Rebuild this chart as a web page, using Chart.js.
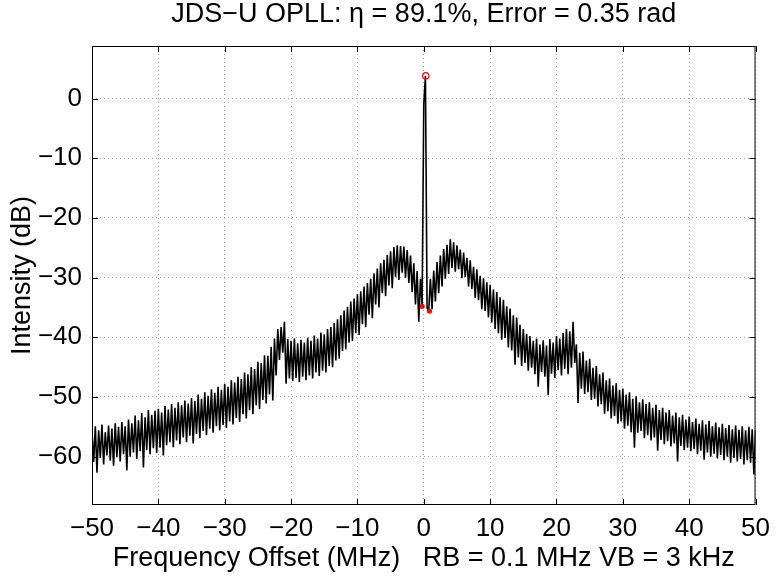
<!DOCTYPE html>
<html>
<head>
<meta charset="utf-8">
<script src="https://cdn.jsdelivr.net/npm/chart.js@4"></script>
<style>
  html, body { margin: 0; padding: 0; background: #fff; }
  canvas { display: block; }
</style>
</head>
<body>
<canvas id="c" width="778" height="577"></canvas>
<script>
// ---- Data ----
const titleText = 'JDS\u2212U OPLL: \u03b7 = 89.1%, Error = 0.35 rad';
const xLabel = 'Frequency Offset (MHz)   RB = 0.1 MHz VB = 3 kHz';
const yLabel = 'Intensity (dB)';
const xTicks = [-50, -40, -30, -20, -10, 0, 10, 20, 30, 40, 50];
const yTicks = [-60, -50, -40, -30, -20, -10, 0];

// frequency grid of the trace (MHz): start and bin spacing
const freqStart = -50;
const freqStep = 0.25;

// trace intensity (dB), one row per 10 MHz
const dbM50 = [-55.8,-60.9,-54.9,-62.7,-55.6,-60.2,-54.6,-61.3,-55.9,-59.8,
               -54.8,-60.7,-55.3,-61.5,-54.4,-60.1,-55.0,-60.8,-54.2,-59.6,
               -54.9,-62.3,-53.8,-60.0,-54.4,-59.3,-53.1,-60.4,-53.9,-59.1,
               -52.7,-61.8,-53.4,-58.9,-52.2,-59.6,-53.0,-58.6,-52.3,-59.4];
const dbM40 = [-52.0,-58.5,-52.6,-59.8,-51.5,-58.1,-52.1,-57.6,-51.2,-58.4,
               -51.8,-57.3,-50.9,-57.9,-51.4,-56.8,-50.6,-57.6,-51.1,-56.5,
               -50.2,-57.8,-50.7,-56.2,-49.6,-56.9,-50.3,-55.7,-49.2,-56.4,
               -49.8,-55.3,-48.7,-56.0,-49.3,-54.9,-48.3,-55.6,-48.8,-54.7];
const dbM30 = [-47.8,-55.2,-48.3,-54.1,-47.2,-54.6,-47.6,-53.5,-46.6,-54.2,
               -47.0,-52.9,-45.9,-53.6,-46.2,-52.2,-45.0,-52.9,-45.3,-51.4,
               -44.1,-52.0,-44.3,-50.5,-43.0,-51.1,-43.1,-49.6,-41.6,-50.6,
               -40.2,-46.4,-38.6,-43.8,-38.3,-42.6,-37.4,-47.8,-40.3,-46.9];
const dbM20 = [-40.6,-47.3,-40.2,-46.8,-41.0,-47.5,-40.4,-46.6,-40.9,-47.2,
               -40.1,-46.4,-40.6,-46.9,-39.7,-45.9,-40.2,-46.5,-39.2,-45.6,
               -39.5,-45.9,-38.6,-44.8,-38.3,-45.0,-37.6,-43.9,-37.0,-43.6,
               -36.3,-42.3,-35.5,-42.0,-34.9,-40.9,-34.0,-40.6,-33.5,-39.3];
const dbM10 = [-32.8,-39.6,-32.3,-37.8,-31.5,-38.3,-30.9,-36.2,-30.2,-36.8,
               -29.3,-34.5,-28.5,-35.0,-27.6,-32.6,-27.0,-33.1,-26.2,-31.3,
               -25.6,-31.8,-24.9,-29.9,-24.6,-30.4,-24.7,-29.2,-24.8,-30.0,
               -25.4,-30.9,-26.3,-32.4,-27.6,-34.5,-28.9,-37.4,-30.2,-34.8];
const dbP0  = [ -1.0,  3.8,-35.1,-35.6,-30.2,-35.3,-28.8,-34.0,-27.4,-32.6,
               -26.3,-31.5,-25.2,-30.2,-24.5,-29.4,-23.6,-28.4,-24.1,-29.0,
               -24.6,-28.6,-25.3,-30.1,-25.8,-29.9,-26.7,-31.5,-27.1,-31.9,
               -28.2,-33.4,-28.6,-33.8,-29.7,-35.3,-30.1,-35.6,-30.8,-36.7];
const dbP10 = [-31.2,-37.5,-32.0,-38.6,-32.4,-39.3,-33.3,-40.4,-33.7,-40.1,
               -34.8,-41.7,-35.2,-42.2,-36.3,-44.6,-36.7,-43.4,-37.9,-44.8,
               -38.6,-44.3,-39.4,-45.6,-39.8,-45.1,-40.6,-46.2,-40.2,-48.3,
               -41.2,-45.8,-40.5,-46.6,-41.4,-49.7,-40.3,-46.1,-40.9,-46.8];
const dbP20 = [-39.8,-45.5,-40.2,-46.4,-39.3,-45.3,-38.6,-46.2,-39.0,-45.1,
               -37.4,-44.3,-41.2,-51.0,-42.6,-48.6,-42.4,-49.5,-43.9,-49.2,
               -43.6,-50.5,-45.1,-50.3,-44.8,-51.6,-46.2,-51.2,-45.9,-52.8,
               -47.2,-52.4,-46.9,-53.6,-48.1,-53.2,-47.7,-54.5,-48.8,-54.1];
const dbP30 = [-48.6,-55.3,-49.6,-54.8,-49.2,-55.9,-50.3,-58.5,-49.9,-56.0,
               -50.9,-55.7,-50.4,-56.9,-51.2,-56.4,-50.9,-57.3,-51.8,-56.8,
               -51.3,-59.0,-52.2,-57.2,-51.8,-57.9,-52.6,-57.4,-52.2,-58.3,
               -53.1,-57.8,-52.6,-60.8,-53.4,-58.2,-53.0,-58.9,-53.8,-58.5];
const dbP40 = [-53.3,-59.1,-54.2,-58.7,-53.6,-59.6,-54.5,-59.0,-53.9,-60.5,
               -54.6,-59.3,-54.0,-60.0,-54.9,-59.5,-54.3,-60.3,-55.1,-59.7,
               -54.5,-60.6,-55.2,-60.0,-54.7,-61.0,-55.4,-60.2,-54.8,-60.8,
               -55.5,-60.4,-54.9,-61.3,-55.6,-60.6,-55.0,-61.0,-55.4,-63.0];
const dbEnd = [-55.6];

// red markers
const peakFreq = [0.3];
const peakDb = [3.8];
const dotFreq = [-0.25, 0.85];
const dotDb = [-34.8, -35.6];

// ---- build library tables ----
const intensity = [].concat(dbM50, dbM40, dbM30, dbM20, dbM10, dbP0, dbP10, dbP20, dbP30, dbP40, dbEnd);
const trace = intensity.map((v, i) => ({ x: freqStart + i * freqStep, y: v }));
const peakPts = peakFreq.map((f, i) => ({ x: f, y: peakDb[i] }));
const dotPts = dotFreq.map((f, i) => ({ x: f, y: dotDb[i] }));

const FONT = "'Liberation Sans', Arial, Helvetica, sans-serif";
const minus = v => String(v).replace('-', '\u2212');

const frame = {
  id: 'frame',
  afterDraw(chart) {
    const { ctx, chartArea: a, scales: { x, y } } = chart;
    ctx.save();
    ctx.strokeStyle = '#000';
    ctx.lineWidth = 1;
    ctx.strokeRect(a.left + 0.5, a.top + 0.5, a.right - a.left - 1, a.bottom - a.top - 1);
    const L = 6;
    ctx.beginPath();
    x.ticks.forEach(t => {
      const px = Math.round(x.getPixelForValue(t.value)) + 0.5;
      ctx.moveTo(px, a.bottom); ctx.lineTo(px, a.bottom - L);
      ctx.moveTo(px, a.top); ctx.lineTo(px, a.top + L);
    });
    y.ticks.forEach(t => {
      const py = Math.round(y.getPixelForValue(t.value)) + 0.5;
      ctx.moveTo(a.left, py); ctx.lineTo(a.left + L, py);
      ctx.moveTo(a.right, py); ctx.lineTo(a.right - L, py);
    });
    ctx.stroke();
    ctx.restore();
  }
};

new Chart(document.getElementById('c'), {
  type: 'line',
  data: {
    datasets: [
      { label: 'peak', data: peakPts, showLine: false, pointRadius: 3.2, pointBorderWidth: 1.2,
        pointBorderColor: '#ff0000', pointBackgroundColor: 'rgba(0,0,0,0)', order: 0 },
      { label: 'dots', data: dotPts, showLine: false, pointRadius: 2.6, pointBorderWidth: 0,
        pointBorderColor: '#ff0000', pointBackgroundColor: '#ff0000', order: 0 },
      { label: 'trace', data: trace, borderColor: '#000', borderWidth: 1.6, pointRadius: 0,
        tension: 0, fill: false, order: 1 }
    ]
  },
  options: {
    responsive: false,
    animation: false,
    events: [],
    layout: { padding: { top: 0, right: 16, bottom: 0, left: 0 } },
    plugins: {
      legend: { display: false },
      tooltip: { enabled: false },
      title: {
        display: true, text: titleText, color: '#000', fullSize: false,
        font: { family: FONT, size: 27, weight: 'normal', lineHeight: 1 },
        padding: { top: 1, bottom: 18 }
      }
    },
    scales: {
      x: {
        type: 'linear', min: -50, max: 50,
        afterBuildTicks: s => { s.ticks = xTicks.map(v => ({ value: v })); },
        afterFit: s => { s.height = 72; },
        ticks: { color: '#000', font: { family: FONT, size: 26 }, padding: 8, maxRotation: 0,
                 callback: v => minus(v) },
        grid: { color: '#a8a8a8', lineWidth: 1, drawTicks: false },
        border: { display: false, dash: [1, 3] },
        title: { display: true, text: xLabel, color: '#000',
                 font: { family: FONT, size: 27 }, padding: { top: 0, bottom: 2 } }
      },
      y: {
        type: 'linear', min: -68.1, max: 8.8,
        afterBuildTicks: s => { s.ticks = yTicks.map(v => ({ value: v })); },
        afterFit: s => { s.width = 92; },
        ticks: { color: '#000', font: { family: FONT, size: 26 }, padding: 10,
                 callback: v => minus(v) },
        grid: { color: '#a8a8a8', lineWidth: 1, drawTicks: false },
        border: { display: false, dash: [1, 3] },
        title: { display: true, text: yLabel, color: '#000',
                 font: { family: FONT, size: 27 }, padding: { top: 6, bottom: 0 } }
      }
    }
  },
  plugins: [frame]
});
</script>
</body>
</html>
